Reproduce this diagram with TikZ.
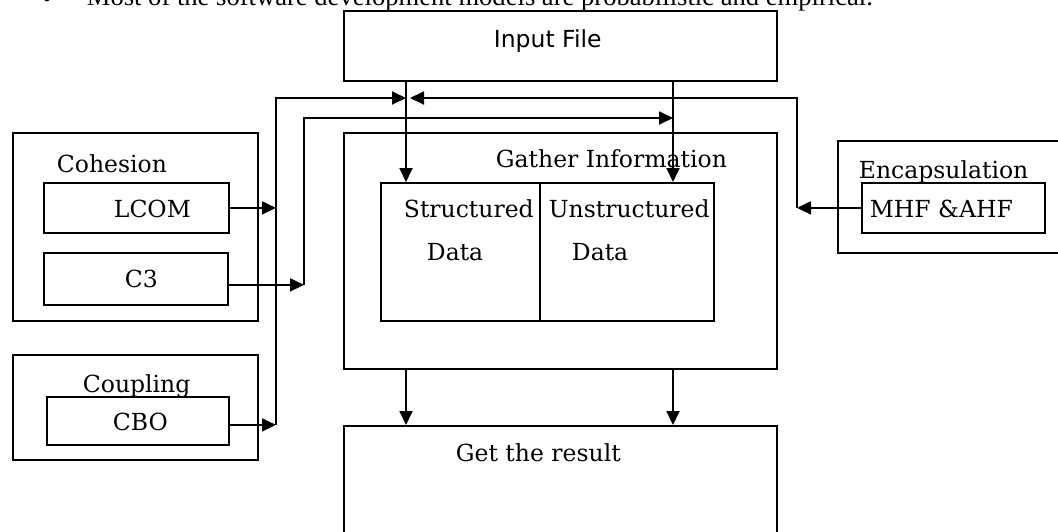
\documentclass[tikz,border=0pt]{standalone}
\usepackage{fontspec}
\setmainfont{DejaVu Serif}
\newfontfamily\inputfont{DejaVu Sans}
\newfontfamily\pagefont{Liberation Serif}
\usetikzlibrary{positioning,arrows.meta}

\begin{document}
\begin{tikzpicture}[x=1pt,y=-1pt,line width=1.8pt,>={Triangle[length=14pt,width=13pt]},
        box/.style={draw,inner sep=0pt,anchor=north west},
        lbl/.style={inner sep=0pt,anchor=base west,font=\fontsize{23.5}{27}\selectfont}]
    \useasboundingbox (0,0) rectangle (1058,531);
    \clip (0,0) rectangle (1058,531);
    \node (bullet)   [anchor=base,inner sep=0pt,font=\pagefont\fontsize{26.6}{30}\selectfont] at (47,7)    {\textbullet};
    \node (page)     [anchor=base west,inner sep=0pt,font=\pagefont\fontsize{26.6}{30}\selectfont] at (86,5) {Most of the software development models are probabilistic and empirical.};
    \node (input)    [box, minimum width=433pt, minimum height=70pt]  at (343,10)   {};
    \node (gather)   [box, minimum width=433pt, minimum height=236pt] at (343,132)  {};
    \node (sdata)    [box, minimum width=159pt, minimum height=138pt] at (380,182)  {};
    \node (udata)    [box, minimum width=174pt, minimum height=138pt, right=-1.8pt of sdata] {};
    \node (cohesion) [box, minimum width=245pt, minimum height=188pt] at (12,132)   {};
    \node (lcom)     [box, minimum width=185pt, minimum height=50pt]  at (43,182)   {};
    \node (cthree)   [box, minimum width=184pt, minimum height=52pt]  at (43,252)   {};
    \node (coupling) [box, minimum width=245pt, minimum height=105pt] at (12,354)   {};
    \node (cbo)      [box, minimum width=182pt, minimum height=48pt]  at (46,396)   {};
    \node (encaps)   [box, minimum width=240pt, minimum height=112pt] at (837,140)  {};
    \node (mhf)      [box, minimum width=183pt, minimum height=50pt]  at (861,182)  {};
    \node (result)   [box, minimum width=433pt, minimum height=140pt] at (343,425)  {};
    \node (tinput)   [lbl, font=\inputfont\fontsize{23.5}{27}\selectfont] at (493,47) {Input File};
    \node (tgather)  [lbl] at (495,167) {Gather Information};
    \node (tstr)     [lbl] at (403,217) {Structured};
    \node (tstrd)    [lbl] at (426,260) {Data};
    \node (tuns)     [lbl] at (548,217) {Unstructured};
    \node (tunsd)    [lbl] at (571,260) {Data};
    \node (tcoh)     [lbl] at (56,172)  {Cohesion};
    \node (tlcom)    [lbl] at (113,217) {LCOM};
    \node (tcthree)  [lbl] at (124,287) {C3};
    \node (tcoup)    [lbl] at (82,392)  {Coupling};
    \node (tcbo)     [lbl] at (112,430) {CBO};
    \node (tenc)     [lbl] at (858,178) {Encapsulation};
    \node (tmhf)     [lbl] at (869,217) {MHF \&AHF};
    \node (tres)     [lbl] at (455,461) {Get the result};
    \coordinate (jl)   at (406,98);
    \coordinate (jr)   at (410,98);
    \coordinate (ju)   at (673,118);
    \coordinate (busa) at (276,0);
    \coordinate (busb) at (304,0);
    \coordinate (busc) at (797,0);
    \draw[->] (input.south -| jl)  -- (sdata.north -| jl);
    \draw[->] (input.south -| ju)  -- (udata.north -| ju);
    \draw[->] (lcom.east)          -- (lcom.east -| busa);
    \draw[->] ([yshift=-6pt]cthree.east) -- ([yshift=-6pt]cthree.east -| busb);
    \draw[->] ([yshift=-4pt]cbo.east)    -- ([yshift=-4pt]cbo.east -| busa);
    \draw[->] ([yshift=-4pt]cbo.east -| busa)    |- (jl);
    \draw[->] ([yshift=-6pt]cthree.east -| busb) |- (ju);
    \draw[->] (mhf.west)           -- (mhf.west -| busc);
    \draw[->] (mhf.west -| busc)   |- (jr);
    \draw[->] (gather.south -| jl) -- (result.north -| jl);
    \draw[->] (gather.south -| ju) -- (result.north -| ju);
\end{tikzpicture}
\end{document}
